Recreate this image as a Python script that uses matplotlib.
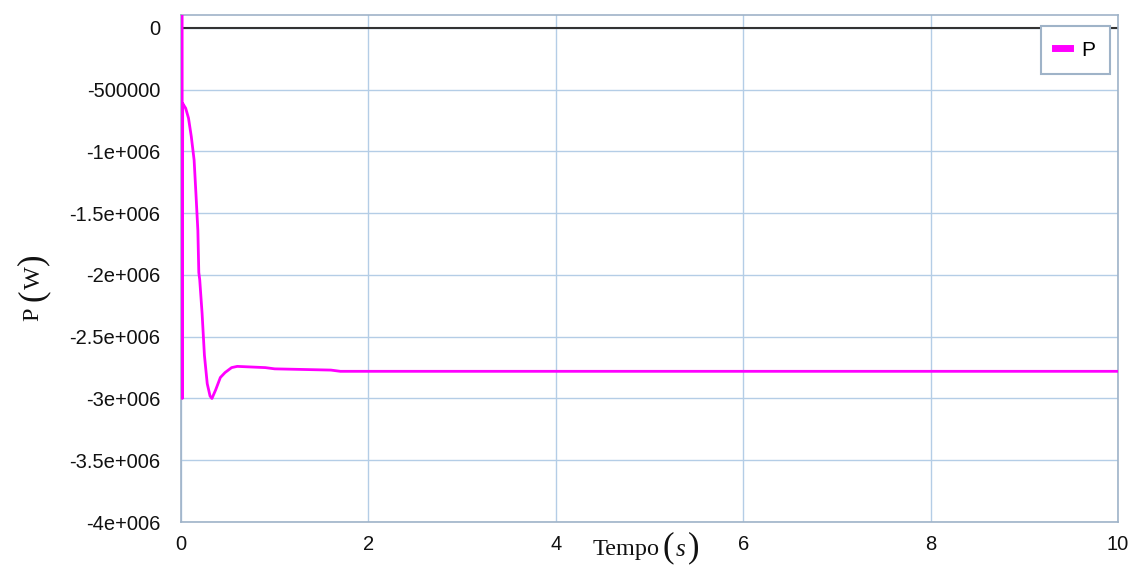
import numpy as np
import matplotlib.pyplot as plt

# time (s) and power (W)
t = [0.012, 0.014, 0.018, 0.025, 0.05, 0.08, 0.11, 0.14, 0.16, 0.18, 0.19, 0.2,
     0.225, 0.25, 0.28, 0.31, 0.33, 0.37, 0.42, 0.47, 0.54, 0.6, 0.9, 1.0,
     1.6, 1.7, 10.0]
P = [1.2e5, -3.0e6, -6.1e5, -6.2e5, -6.5e5, -7.3e5, -8.8e5, -1.07e6, -1.35e6,
     -1.64e6, -1.98e6, -2.04e6, -2.31e6, -2.65e6, -2.88e6, -2.98e6, -3.0e6,
     -2.93e6, -2.83e6, -2.79e6, -2.75e6, -2.74e6, -2.75e6, -2.76e6, -2.77e6,
     -2.78e6, -2.78e6]

yticks = [0, -5e5, -1e6, -1.5e6, -2e6, -2.5e6, -3e6, -3.5e6, -4e6]
ylabels = ["0", "-500000", "-1e+006", "-1.5e+006", "-2e+006", "-2.5e+006",
           "-3e+006", "-3.5e+006", "-4e+006"]
xticks = [0, 2, 4, 6, 8, 10]

plt.rcParams['font.family'] = ['Liberation Sans', 'DejaVu Sans']

W, H = 1140, 568
fig = plt.figure(figsize=(W / 100, H / 100), dpi=100)
ax = fig.add_axes([181 / W, 46 / H, 937 / W, 507 / H])

grid_c = '#b4cde6'
spine_c = '#9fb3c8'
ax.set_xlim(0, 10)
ax.set_ylim(-4e6, 1.05e5)
ax.set_xticks(xticks)
ax.set_xticklabels([str(x) for x in xticks])
ax.set_yticks(yticks)
ax.set_yticklabels(ylabels)
ax.grid(True, color=grid_c, linewidth=1.0)
ax.set_axisbelow(True)
ax.axhline(0, color='#333333', linewidth=1.5, zorder=2)
for s in ax.spines.values():
    s.set_color(spine_c)
    s.set_linewidth(1.2)
ax.tick_params(length=0, labelsize=14.5, colors='#111111', pad=15)
ax.tick_params(axis='x', pad=9)

ax.plot(t, P, color='#ff00ff', linewidth=2, label='P', zorder=3)

# axis titles built from pieces so the parentheses can be taller
serif = 'Liberation Serif'
c = '#111111'
fig.text(660 / W, 1 - 549 / H, "Tempo", family=serif, fontsize=17.5, color=c,
         ha='right', va='center')
fig.text(668 / W, 1 - 548 / H, "(", family=serif, fontsize=25, color=c,
         ha='center', va='center')
fig.text(681 / W, 1 - 550 / H, "s", family=serif, fontsize=18, color=c,
         style='italic', ha='center', va='center')
fig.text(694 / W, 1 - 548 / H, ")", family=serif, fontsize=25, color=c,
         ha='center', va='center')

fig.text(33 / W, 1 - 314 / H, "P", family=serif, fontsize=17.5, color=c,
         rotation=90, ha='center', va='center')
fig.text(33 / W, 1 - 295 / H, "(", family=serif, fontsize=25, color=c,
         rotation=90, ha='center', va='center')
fig.text(34 / W, 1 - 278 / H, "W", family=serif, fontsize=17.5, color=c,
         rotation=90, ha='center', va='center')
fig.text(33 / W, 1 - 259 / H, ")", family=serif, fontsize=25, color=c,
         rotation=90, ha='center', va='center')

leg = ax.legend(loc='upper right', fontsize=15, handlelength=0.7,
                handletextpad=0.55, borderpad=0.7, borderaxespad=0,
                fancybox=False, bbox_to_anchor=(0.9915, 0.978), framealpha=1)
leg.get_frame().set_edgecolor(spine_c)
leg.get_frame().set_linewidth(1.5)
for h in leg.get_lines():
    h.set_linewidth(5)

fig.savefig('out.png', dpi=100)
